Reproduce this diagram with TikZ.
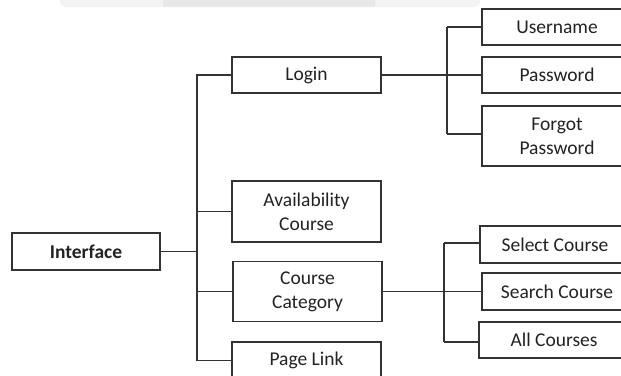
\documentclass[tikz,border=0pt]{standalone}
\usepackage{fontspec}
\setmainfont{Carlito}
\definecolor{ink}{HTML}{222222}
\definecolor{edge}{HTML}{333333}
\definecolor{bandA}{HTML}{F3F3F3}
\definecolor{bandB}{HTML}{E8E8E8}
\tikzset{
  box/.style={draw=edge, line width=1.4pt, minimum width=149pt, inner sep=0pt,
    align=center, font=\fontsize{19.5}{24}\selectfont, text=ink},
  link/.style={draw=edge, line width=1.3pt}
}
\begin{document}
\begin{tikzpicture}[x=1pt,y=-1pt]
\useasboundingbox (0,0) rectangle (621,375);
\clip (0,0) rectangle (621,375);
% faint banner at the top
\fill[bandA, rounded corners=5pt] (60,-10) rectangle (480,7);
\fill[bandB] (163,-10) rectangle (375,7);
% nodes
\node[box, minimum width=148pt, minimum height=37pt, font=\fontsize{19.5}{24}\selectfont\bfseries] (iface) at (86,251.5) {Interface};
\node[box, minimum height=36pt] (login) at (306.5,75) {Login};
\node[box, minimum height=61pt] (avail) at (306.5,211.5) {Availability\\Course};
\node[box, minimum height=60pt] (cat) at (307.5,291.5) {Course\\Category};
\node[box, minimum height=37pt] (page) at (306.5,360.5) {Page Link};
\node[box, minimum width=150pt, minimum height=36pt] (user) at (557,27) {Username};
\node[box, minimum width=150pt, minimum height=36pt] (pass) at (557,75) {Password};
\node[box, minimum width=150pt, minimum height=60pt] (forgot) at (557,136) {Forgot\\Password};
\node[box, minimum width=150pt, minimum height=37pt] (select) at (555,244.5) {Select Course};
\node[box, minimum width=150pt, minimum height=37pt] (search) at (557,291.5) {Search Course};
\node[box, minimum width=150pt, minimum height=36pt] (all) at (554,340) {All Courses};
% trunk
\coordinate (ta) at (197,74);
\coordinate (tb) at (197,361);
\draw[link] (ta) -- (tb);
\draw[link] (iface.east) -- (iface.east -| ta);
\draw[link] (login.west) -- (login.west -| ta);
\draw[link] (avail.west) -- (avail.west -| ta);
\draw[link] (cat.west) -- (cat.west -| ta);
\draw[link] (page.west) -- (page.west -| ta);
% login branch
\coordinate (la) at (447,27);
\coordinate (lb) at (447,134);
\draw[link] (la) -- (lb);
\draw[link] (login.east) -- (pass.west);
\draw[link] (user.west) -- (user.west -| la);
\draw[link] (lb) -- (lb -| forgot.west);
% category branch
\coordinate (ca) at (444,243);
\coordinate (cb) at (444,342);
\draw[link] (ca) -- (cb);
\draw[link] (cat.east) -- (search.west);
\draw[link] (ca) -- (ca -| select.west);
\draw[link] (cb) -- (cb -| all.west);
\end{tikzpicture}
\end{document}
